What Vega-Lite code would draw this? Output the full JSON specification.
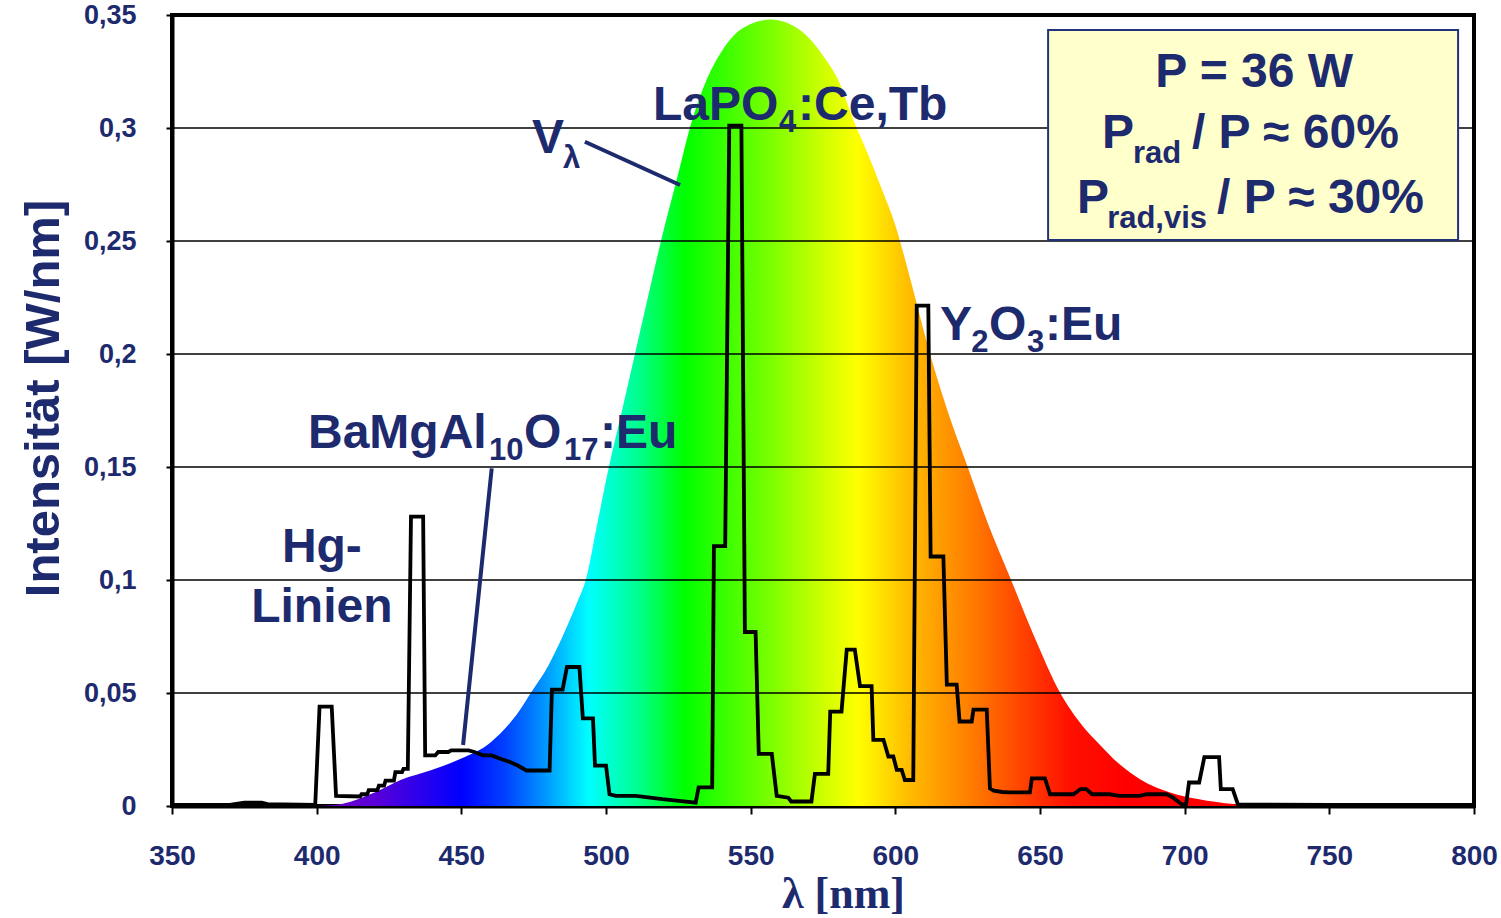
{
  "$schema": "https://vega.github.io/schema/vega-lite/v6.json",
  "width": 1302,
  "height": 791,
  "autosize": {"type": "none"},
  "padding": {"left": 172, "top": 15, "right": 27, "bottom": 112},
  "background": "white",
  "config": {"view": {"stroke": "black", "strokeWidth": 4}},
  "encoding": {
    "x": {
      "field": "wl", "type": "quantitative",
      "scale": {"domain": [350, 800], "nice": false, "zero": false},
      "axis": {
        "values": [350, 400, 450, 500, 550, 600, 650, 700, 750, 800],
        "title": "λ [nm]",
        "titleFont": "Liberation Serif", "titleFontSize": 44, "titleFontWeight": "bold", "titleColor": "#1e2a6e",
        "titleX": 671, "titleY": 101, "titleBaseline": "alphabetic", "titleAlign": "center",
        "labelFont": "Liberation Sans", "labelFontSize": 28, "labelFontWeight": "bold", "labelColor": "#1e2a6e",
        "labelPadding": 28, "labelFlush": false, "labelOverlap": false,
        "tickSize": 8, "tickWidth": 2, "tickColor": "black",
        "domainColor": "black", "domainWidth": 4, "grid": false
      }
    },
    "y": {
      "field": "I", "type": "quantitative",
      "scale": {"domain": [0, 0.35], "nice": false},
      "axis": {
        "values": [0, 0.05, 0.1, 0.15, 0.2, 0.25, 0.3, 0.35],
        "labelExpr": "replace(format(datum.value, '.2~f'), '.', ',')",
        "title": "Intensität [W/nm]",
        "titleFont": "Liberation Sans", "titleFontSize": 49, "titleFontWeight": "bold", "titleColor": "#1e2a6e",
        "titleX": -114, "titleY": 383, "titleBaseline": "alphabetic", "titleAlign": "center", "titleAngle": -90,
        "labelFont": "Liberation Sans", "labelFontSize": 27, "labelFontWeight": "bold", "labelColor": "#1e2a6e",
        "labelPadding": 30, "labelOverlap": false, "labelFlush": false,
        "tickSize": 6, "tickWidth": 2, "tickColor": "black",
        "domainColor": "black", "domainWidth": 4, "grid": false
      }
    }
  },
  "layer": [
    {
      "data": {"values": [
        {"wl": 400, "I": 0.0}, {"wl": 405, "I": 0.0003}, {"wl": 409, "I": 0.001}, {"wl": 420, "I": 0.006},
        {"wl": 429, "I": 0.0115}, {"wl": 440, "I": 0.016}, {"wl": 450, "I": 0.021}, {"wl": 460, "I": 0.028},
        {"wl": 470, "I": 0.042}, {"wl": 474, "I": 0.05}, {"wl": 480, "I": 0.062}, {"wl": 485, "I": 0.075},
        {"wl": 490, "I": 0.09}, {"wl": 493, "I": 0.1}, {"wl": 497, "I": 0.125}, {"wl": 501, "I": 0.15},
        {"wl": 505, "I": 0.172}, {"wl": 510, "I": 0.2}, {"wl": 515, "I": 0.228}, {"wl": 519, "I": 0.25},
        {"wl": 525, "I": 0.28}, {"wl": 529, "I": 0.3}, {"wl": 535, "I": 0.322}, {"wl": 540, "I": 0.334},
        {"wl": 545, "I": 0.342}, {"wl": 550, "I": 0.346}, {"wl": 557, "I": 0.348}, {"wl": 565, "I": 0.345},
        {"wl": 570, "I": 0.34}, {"wl": 575, "I": 0.332}, {"wl": 580, "I": 0.322}, {"wl": 586, "I": 0.302},
        {"wl": 590, "I": 0.29}, {"wl": 595, "I": 0.274}, {"wl": 600, "I": 0.257}, {"wl": 605, "I": 0.234},
        {"wl": 612, "I": 0.2}, {"wl": 618, "I": 0.175}, {"wl": 625, "I": 0.15}, {"wl": 632, "I": 0.125},
        {"wl": 640, "I": 0.1}, {"wl": 648, "I": 0.075}, {"wl": 657, "I": 0.05}, {"wl": 665, "I": 0.035},
        {"wl": 670, "I": 0.028}, {"wl": 677, "I": 0.019}, {"wl": 685, "I": 0.0115}, {"wl": 695, "I": 0.006},
        {"wl": 705, "I": 0.003}, {"wl": 716, "I": 0.001}, {"wl": 730, "I": 0.0}
      ]},
      "mark": {
        "type": "area", "interpolate": "monotone",
        "color": {
          "gradient": "linear", "x1": 0, "y1": 0, "x2": 1, "y2": 0,
          "stops": [
            {"offset": 0.0, "color": "#7000c0"},
            {"offset": 0.0606, "color": "#5a00d8"},
            {"offset": 0.1515, "color": "#0000ff"},
            {"offset": 0.197, "color": "#0040ff"},
            {"offset": 0.236, "color": "#0090ff"},
            {"offset": 0.285, "color": "#00ffff"},
            {"offset": 0.336, "color": "#00ff90"},
            {"offset": 0.385, "color": "#00ff00"},
            {"offset": 0.479, "color": "#80ff00"},
            {"offset": 0.527, "color": "#c8ff00"},
            {"offset": 0.567, "color": "#ffff00"},
            {"offset": 0.621, "color": "#ffbb00"},
            {"offset": 0.682, "color": "#ff8000"},
            {"offset": 0.742, "color": "#ff4000"},
            {"offset": 0.788, "color": "#ff1000"},
            {"offset": 0.848, "color": "#ff0000"},
            {"offset": 1.0, "color": "#ff0000"}
          ]
        }
      }
    },
    {
      "data": {"values": [
        {"I": 0.05, "wl": 350, "wl2": 800}, {"I": 0.1, "wl": 350, "wl2": 800}, {"I": 0.15, "wl": 350, "wl2": 800},
        {"I": 0.2, "wl": 350, "wl2": 800}, {"I": 0.25, "wl": 350, "wl2": 800}, {"I": 0.3, "wl": 350, "wl2": 800}
      ]},
      "mark": {"type": "rule", "color": "black", "strokeWidth": 1.6},
      "encoding": {"x2": {"field": "wl2"}}
    },
    {
      "data": {"values": [
        {"wl": 652.8, "I": 0.3434, "wl2": 794.5, "I2": 0.2504}
      ]},
      "mark": {"type": "rect", "fill": "#ffffcc", "stroke": "#23337a", "strokeWidth": 2},
      "encoding": {"x2": {"field": "wl2"}, "y2": {"field": "I2"}}
    },
    {
      "data": {"values": [
        {"wl": 350, "I": 0.0005}, {"wl": 370, "I": 0.0005}, {"wl": 375, "I": 0.0015}, {"wl": 381, "I": 0.0015},
        {"wl": 383, "I": 0.0008}, {"wl": 399.5, "I": 0.0005}, {"wl": 401, "I": 0.044}, {"wl": 405.2, "I": 0.044},
        {"wl": 406.7, "I": 0.0045}, {"wl": 415, "I": 0.0042}, {"wl": 415.5, "I": 0.0052}, {"wl": 417.5, "I": 0.0052},
        {"wl": 418, "I": 0.007}, {"wl": 421, "I": 0.007}, {"wl": 421.5, "I": 0.009}, {"wl": 423.3, "I": 0.009},
        {"wl": 423.8, "I": 0.0112}, {"wl": 426.7, "I": 0.0112}, {"wl": 427.2, "I": 0.015}, {"wl": 429.5, "I": 0.015},
        {"wl": 430, "I": 0.0164}, {"wl": 431.5, "I": 0.0164}, {"wl": 432.6, "I": 0.128}, {"wl": 436.8, "I": 0.128},
        {"wl": 437.5, "I": 0.0224}, {"wl": 441, "I": 0.0224}, {"wl": 442, "I": 0.0239}, {"wl": 445.5, "I": 0.0239},
        {"wl": 446.5, "I": 0.0246}, {"wl": 452.5, "I": 0.0246}, {"wl": 454.5, "I": 0.0239}, {"wl": 457.5, "I": 0.0224},
        {"wl": 460.5, "I": 0.0224}, {"wl": 463.5, "I": 0.0209}, {"wl": 467, "I": 0.0194}, {"wl": 469.5, "I": 0.0179},
        {"wl": 472.5, "I": 0.0157}, {"wl": 480.5, "I": 0.0157}, {"wl": 481.3, "I": 0.0515}, {"wl": 485, "I": 0.0515},
        {"wl": 486.5, "I": 0.0615}, {"wl": 490.8, "I": 0.0615}, {"wl": 492, "I": 0.0388}, {"wl": 495.5, "I": 0.0388},
        {"wl": 496.2, "I": 0.0179}, {"wl": 500, "I": 0.0179}, {"wl": 501.2, "I": 0.0052}, {"wl": 503.4, "I": 0.0045},
        {"wl": 510.3, "I": 0.0045}, {"wl": 519.5, "I": 0.003}, {"wl": 531, "I": 0.0015}, {"wl": 532, "I": 0.0082},
        {"wl": 536.7, "I": 0.0082}, {"wl": 537.3, "I": 0.115}, {"wl": 541.2, "I": 0.115}, {"wl": 542.6, "I": 0.301},
        {"wl": 546.8, "I": 0.301}, {"wl": 548, "I": 0.077}, {"wl": 551.7, "I": 0.077}, {"wl": 552.8, "I": 0.0231},
        {"wl": 557.3, "I": 0.0231}, {"wl": 559, "I": 0.0045}, {"wl": 563, "I": 0.0037}, {"wl": 564, "I": 0.002},
        {"wl": 571, "I": 0.002}, {"wl": 572.2, "I": 0.0142}, {"wl": 576.8, "I": 0.0142}, {"wl": 577.5, "I": 0.0418},
        {"wl": 581.4, "I": 0.0418}, {"wl": 583.2, "I": 0.0692}, {"wl": 586, "I": 0.0692}, {"wl": 587.8, "I": 0.053},
        {"wl": 591.8, "I": 0.053}, {"wl": 592.4, "I": 0.0293}, {"wl": 595.9, "I": 0.0293}, {"wl": 597.6, "I": 0.0219},
        {"wl": 599.3, "I": 0.0219}, {"wl": 600.5, "I": 0.016}, {"wl": 602.2, "I": 0.016}, {"wl": 603.3, "I": 0.0115},
        {"wl": 606.2, "I": 0.0115}, {"wl": 607.4, "I": 0.2214}, {"wl": 611.4, "I": 0.2214}, {"wl": 612.2, "I": 0.1104},
        {"wl": 616.6, "I": 0.1104}, {"wl": 617.8, "I": 0.0537}, {"wl": 621.2, "I": 0.0537}, {"wl": 622.2, "I": 0.0374},
        {"wl": 626.4, "I": 0.0374}, {"wl": 627, "I": 0.0426}, {"wl": 631.6, "I": 0.0426}, {"wl": 632.7, "I": 0.0078},
        {"wl": 634, "I": 0.0068}, {"wl": 637, "I": 0.0062}, {"wl": 639.5, "I": 0.006}, {"wl": 646.5, "I": 0.006},
        {"wl": 647.2, "I": 0.0122}, {"wl": 651.7, "I": 0.0122}, {"wl": 653.5, "I": 0.0052}, {"wl": 661.6, "I": 0.0052},
        {"wl": 664, "I": 0.0075}, {"wl": 666, "I": 0.0075}, {"wl": 668, "I": 0.0052}, {"wl": 674, "I": 0.0052},
        {"wl": 677.5, "I": 0.0045}, {"wl": 684.5, "I": 0.0045}, {"wl": 686.8, "I": 0.0052}, {"wl": 693.7, "I": 0.0052},
        {"wl": 696, "I": 0.0037}, {"wl": 699, "I": 0.0007}, {"wl": 700.5, "I": 0.0007}, {"wl": 701.5, "I": 0.0104},
        {"wl": 705, "I": 0.0104}, {"wl": 706.8, "I": 0.0216}, {"wl": 711.9, "I": 0.0216}, {"wl": 712.5, "I": 0.0075},
        {"wl": 716.6, "I": 0.0075}, {"wl": 718.4, "I": 0.0007}, {"wl": 750, "I": 0.0005}, {"wl": 800, "I": 0.0005}
      ]},
      "mark": {"type": "line", "color": "black", "strokeWidth": 3.8, "strokeJoin": "miter"}
    },
    {
      "data": {"values": [
        {"wl": 492.7, "I": 0.2939, "wl2": 525.6, "I2": 0.2748},
        {"wl": 460.5, "I": 0.1494, "wl2": 450.6, "I2": 0.027}
      ]},
      "mark": {"type": "rule", "color": "#1e2a6e", "strokeWidth": 4},
      "encoding": {"x2": {"field": "wl2"}, "y2": {"field": "I2"}}
    },
    {
      "data": {"values": [
        {"wl": 516.25, "I": 0.3035, "label": "LaPO"},
        {"wl": 566.4, "I": 0.3035, "label": ":Ce,Tb"},
        {"wl": 474.4, "I": 0.2889, "label": "V"},
        {"wl": 397.0, "I": 0.1584, "label": "BaMgAl"},
        {"wl": 471.7, "I": 0.1584, "label": "O"},
        {"wl": 497.9, "I": 0.1584, "label": ":Eu"},
        {"wl": 615.4, "I": 0.2062, "label": "Y"},
        {"wl": 632.4, "I": 0.2062, "label": "O"},
        {"wl": 651.7, "I": 0.2062, "label": ":Eu"},
        {"wl": 671.4, "I": 0.2912, "label": "P"},
        {"wl": 702.5, "I": 0.2912, "label": "/ P ≈ 60%"},
        {"wl": 662.8, "I": 0.2624, "label": "P"},
        {"wl": 711.2, "I": 0.2624, "label": "/ P ≈ 30%"}
      ]},
      "mark": {"type": "text", "font": "Liberation Sans", "fontWeight": "bold", "fontSize": 48, "fill": "#1e2a6e", "align": "left", "baseline": "alphabetic"},
      "encoding": {"text": {"field": "label"}}
    },
    {
      "data": {"values": [
        {"wl": 401.8, "I": 0.108, "label": "Hg-"},
        {"wl": 401.8, "I": 0.0814, "label": "Linien"},
        {"wl": 724.0, "I": 0.3181, "label": "P = 36 W"}
      ]},
      "mark": {"type": "text", "font": "Liberation Sans", "fontWeight": "bold", "fontSize": 48, "fill": "#1e2a6e", "align": "center", "baseline": "alphabetic"},
      "encoding": {"text": {"field": "label"}}
    },
    {
      "data": {"values": [
        {"wl": 559.8, "I": 0.2982, "label": "4"},
        {"wl": 485.1, "I": 0.2823, "label": "λ"},
        {"wl": 459.6, "I": 0.1531, "label": "10"},
        {"wl": 485.5, "I": 0.1531, "label": "17"},
        {"wl": 626.2, "I": 0.2009, "label": "2"},
        {"wl": 645.5, "I": 0.2009, "label": "3"},
        {"wl": 682.1, "I": 0.2845, "label": "rad"},
        {"wl": 673.2, "I": 0.2558, "label": "rad,vis"}
      ]},
      "mark": {"type": "text", "font": "Liberation Sans", "fontWeight": "bold", "fontSize": 31, "fill": "#1e2a6e", "align": "left", "baseline": "alphabetic"},
      "encoding": {"text": {"field": "label"}}
    }
  ]
}
